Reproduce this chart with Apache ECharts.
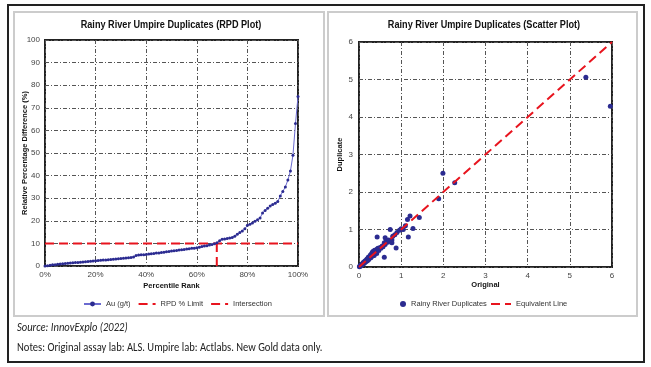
<!DOCTYPE html>
<html><head><meta charset="utf-8">
<script src="https://cdn.jsdelivr.net/npm/echarts@6/dist/echarts.min.js"></script>
<style>html,body{margin:0;padding:0;background:#fff}#c{width:651px;height:367px}</style>
</head><body><div id="c"></div>
<script>
// RPD plot: sorted relative percentage differences (%), evenly ranked 0..100%
const rpdValues = [0,0.1,0.3,0.5,0.6,0.8,0.9,1.0,1.1,1.2,1.3,1.4,1.5,1.6,1.7,1.8,1.9,2.0,2.1,2.2,
 2.3,2.4,2.5,2.6,2.7,2.8,2.9,3.0,3.1,3.2,3.3,3.4,3.5,3.6,3.8,4.0,4.6,4.9,5.0,5.0,
 5.1,5.3,5.4,5.5,5.7,5.8,6.0,6.1,6.3,6.4,6.6,6.8,6.9,7.1,7.2,7.3,7.5,7.6,7.8,7.9,
 8.1,8.3,8.6,8.8,9.0,9.3,9.5,9.8,10.3,11.2,11.8,12.0,12.2,12.4,12.6,13.2,14.0,14.8,15.5,16.5,
 18.0,18.5,19.0,19.8,20.5,21.2,23.5,24.6,25.5,26.5,27.2,27.8,28.5,31.0,33.0,35.0,38.0,42.0,49.0,63.0,75.0];
const rpdLimit = 10;
const intersectionRank = 67.9;
const rpdYTicks = [0,10,20,30,40,50,60,70,80,90,100];
const rankTicks = ['0%','20%','40%','60%','80%','100%'];

// Scatter plot: [original, duplicate] (g/t)
const dupOriginal = [0.01,0.02,0.03,0.04,0.05,0.06,0.07,0.08,0.09,0.10,0.10,0.12,0.13,0.14,0.15,0.16,0.18,0.19,0.20,0.21,
 0.22,0.23,0.25,0.26,0.27,0.28,0.30,0.30,0.32,0.33,0.34,0.35,0.36,0.37,0.38,0.40,0.42,0.43,0.45,0.47,
 0.50,0.52,0.55,0.57,0.60,0.62,0.65,0.68,0.70,0.80,0.85,0.90,1.00,1.05,1.10,
 0.43,0.74,0.62,0.60,0.88,0.78,0.78,0.96,1.02,1.17,1.15,1.21,1.28,1.43,1.89,2.27,1.99,5.38,5.96];
const dupDuplicate = [0.01,0.03,0.02,0.05,0.04,0.07,0.06,0.09,0.08,0.12,0.08,0.10,0.15,0.12,0.17,0.14,0.20,0.16,0.22,0.18,
 0.26,0.20,0.28,0.24,0.32,0.25,0.36,0.28,0.40,0.30,0.42,0.35,0.31,0.45,0.38,0.42,0.36,0.48,0.50,0.44,
 0.52,0.50,0.56,0.54,0.65,0.60,0.70,0.66,0.72,0.82,0.86,0.92,1.02,1.00,1.10,
 0.80,1.00,0.78,0.26,0.51,0.72,0.65,0.98,1.01,0.80,1.27,1.36,1.03,1.32,1.82,2.25,2.50,5.06,4.29];
const equivLine = [0,6];

const chart = echarts.init(document.getElementById('c'));
const F = '"Liberation Sans", Arial, sans-serif';
const FN = 'Carlito, Lato, "Open Sans", sans-serif';
const gridLine = {show:true, lineStyle:{color:'#555', width:1, type:[4,2,1,2]}};
const blue = '#2B2B90';
const red = '#E8141E';
const dash = [9,5];
const legText = {fontSize:7.5, color:'#333', fontFamily:F};
const nameStyle = {fontSize:7.5, fontWeight:'bold', color:'#111', fontFamily:F};
const tickStyle = {fontSize:8, color:'#444', fontFamily:F};

chart.setOption({
  animation:false,
  textStyle:{fontFamily:F},
  graphic:[
    {type:'rect', shape:{x:8,y:5,width:636,height:357}, style:{fill:'none', stroke:'#222', lineWidth:2}, z:-10},
    {type:'rect', shape:{x:14,y:12,width:310,height:304}, style:{fill:'#fff', stroke:'#ccc', lineWidth:2}, z:-9},
    {type:'rect', shape:{x:328,y:12,width:309,height:304}, style:{fill:'#fff', stroke:'#ccc', lineWidth:2}, z:-9},
    {type:'text', x:171, y:19, scaleX:0.83, style:{text:'Rainy River Umpire Duplicates (RPD Plot)', align:'center', fontFamily:F, fontWeight:'bold', fontSize:11, fill:'#111'}},
    {type:'text', x:484, y:19, scaleX:0.83, style:{text:'Rainy River Umpire Duplicates (Scatter Plot)', align:'center', fontFamily:F, fontWeight:'bold', fontSize:11, fill:'#111'}},
    {type:'text', x:17, y:322, scaleX:0.88, style:{text:'Source: InnovExplo (2022)', fontFamily:FN, fontStyle:'italic', fontSize:12, fill:'#222'}},
    {type:'text', x:17, y:342, scaleX:0.88, style:{text:'Notes: Original assay lab: ALS. Umpire lab: Actlabs. New Gold data only.', fontFamily:FN, fontSize:12, fill:'#222'}}
  ],
  legend:[
    {left:78, top:295, itemWidth:17, itemHeight:6, itemGap:7, textStyle:legText,
     data:['Au (g/t)', {name:'RPD % Limit', itemStyle:{opacity:0}}, {name:'Intersection', itemStyle:{opacity:0}}]},
    {left:395, top:295, itemWidth:6, itemHeight:6, textStyle:legText,
     data:[{name:'Rainy River Duplicates', icon:'circle'}]},
    {left:485, top:295, itemWidth:20, itemHeight:6, textStyle:legText,
     data:[{name:'Equivalent Line', itemStyle:{opacity:0}}]}
  ],
  grid:[
    {left:45, top:40, width:253, height:226, show:true, borderColor:'#222', borderWidth:2},
    {left:359, top:42, width:253, height:225, show:true, borderColor:'#222', borderWidth:2}
  ],
  xAxis:[
    {gridIndex:0, type:'value', min:0, max:100, interval:20,
     name:'Percentile Rank', nameLocation:'middle', nameGap:16, nameMoveOverlap:false, nameTextStyle:nameStyle,
     axisLine:{show:false}, axisTick:{show:false},
     axisLabel:Object.assign({margin:5, formatter:(v)=>rankTicks[v/20]}, tickStyle),
     splitLine:gridLine},
    {gridIndex:1, type:'value', min:0, max:6, interval:1,
     name:'Original', nameLocation:'middle', nameGap:14, nameMoveOverlap:false, nameTextStyle:nameStyle,
     axisLine:{show:false}, axisTick:{show:false},
     axisLabel:Object.assign({margin:5}, tickStyle),
     splitLine:gridLine}
  ],
  yAxis:[
    {gridIndex:0, type:'value', min:0, max:100, interval:10,
     name:'Relative Percentage Difference (%)', nameLocation:'middle', nameGap:16, nameMoveOverlap:false, nameTextStyle:nameStyle,
     axisLine:{show:false}, axisTick:{show:false},
     axisLabel:Object.assign({margin:5, formatter:(v)=>rpdYTicks.includes(v)?String(v):''}, tickStyle),
     splitLine:gridLine},
    {gridIndex:1, type:'value', min:0, max:6, interval:1,
     name:'Duplicate', nameLocation:'middle', nameGap:15, nameMoveOverlap:false, nameTextStyle:nameStyle,
     axisLine:{show:false}, axisTick:{show:false},
     axisLabel:Object.assign({margin:6}, tickStyle),
     splitLine:gridLine}
  ],
  series:[
    {name:'Au (g/t)', type:'line', xAxisIndex:0, yAxisIndex:0,
     data:rpdValues.map((v,i)=>[i*100/(rpdValues.length-1), v]),
     symbol:'circle', symbolSize:3, showSymbol:true,
     lineStyle:{color:'#6b6bd0', width:1}, itemStyle:{color:blue}, z:3},
    {name:'RPD % Limit', type:'line', xAxisIndex:0, yAxisIndex:0,
     data:[[0,rpdLimit],[100,rpdLimit]], symbol:'none',
     lineStyle:{color:red, width:2, type:dash}, itemStyle:{color:red}, z:2},
    {name:'Intersection', type:'line', xAxisIndex:0, yAxisIndex:0,
     data:[[intersectionRank,0],[intersectionRank,rpdLimit]], symbol:'none',
     lineStyle:{color:red, width:2, type:dash}, itemStyle:{color:red}, z:2},
    {name:'Rainy River Duplicates', type:'scatter', xAxisIndex:1, yAxisIndex:1,
     data:dupOriginal.map((v,i)=>[v, dupDuplicate[i]]),
     symbol:'circle', symbolSize:5, itemStyle:{color:blue, opacity:1}, z:3},
    {name:'Equivalent Line', type:'line', xAxisIndex:1, yAxisIndex:1,
     data:equivLine.map(v=>[v,v]), symbol:'none',
     lineStyle:{color:red, width:2, type:dash}, itemStyle:{color:red}, z:4}
  ]
});
</script></body></html>
